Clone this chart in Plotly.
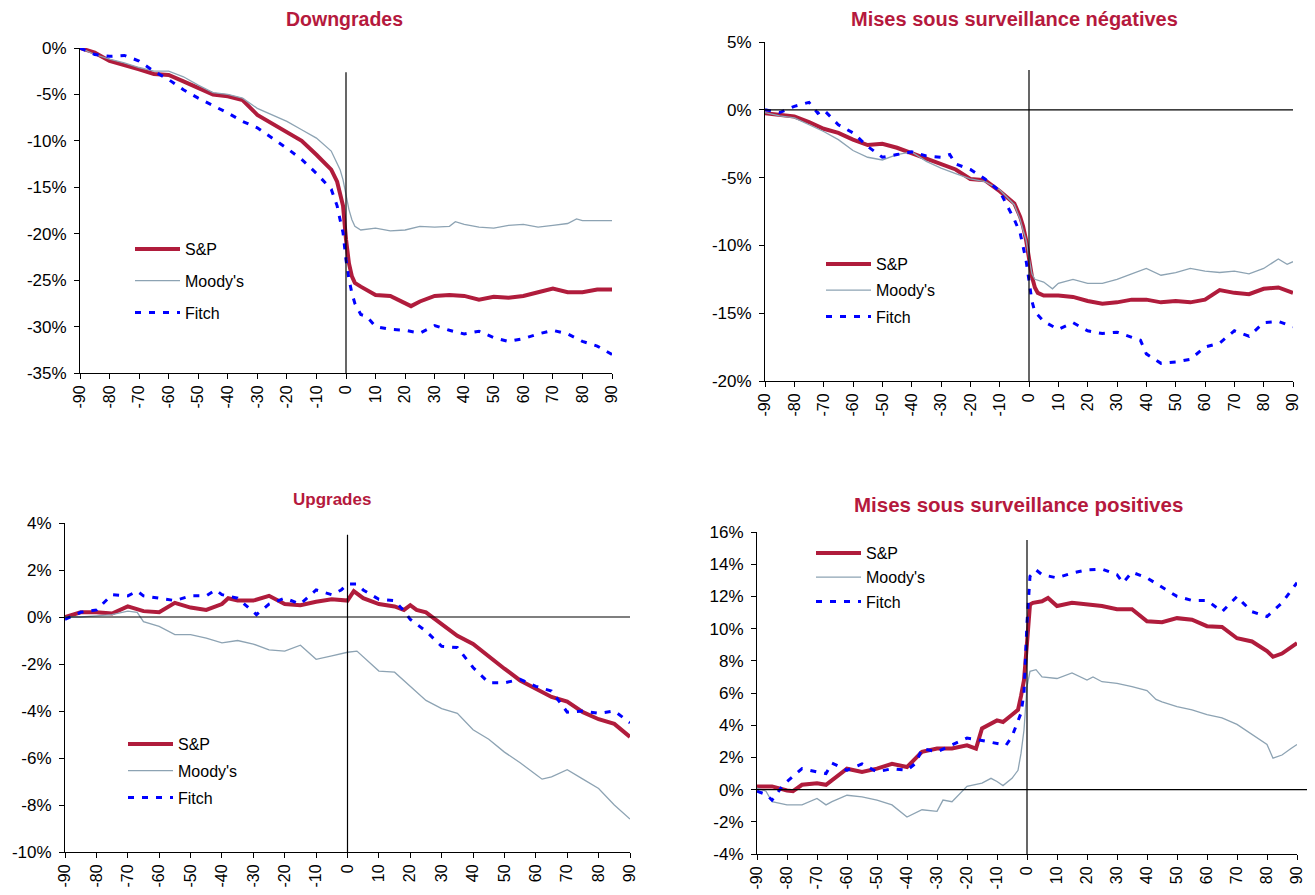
import plotly.graph_objects as go

# ---------------- DATA ----------------
days_ticks = list(range(-90, 91, 10))

# Panel 1: Downgrades
dg_sp_x = [-90,-85,-80,-75,-70,-65,-60,-55,-50,-45,-40,-35,-30,-25,-20,-15,-10,-5,-3,-2,-1,0,1,2,3,5,10,15,20,22,25,30,35,40,45,50,55,60,65,70,75,80,85,90]
dg_sp = [0,-0.5,-1.4,-1.8,-2.3,-2.8,-2.9,-3.6,-4.3,-5.0,-5.2,-5.6,-7.2,-8.1,-9.0,-10.0,-11.5,-13.1,-14.4,-15.6,-17.0,-20.6,-23.2,-24.6,-25.3,-25.7,-26.6,-26.7,-27.5,-27.8,-27.3,-26.7,-26.6,-26.7,-27.1,-26.8,-26.9,-26.7,-26.3,-25.9,-26.3,-26.3,-26.0,-26.0]
dg_md_x = [-90,-85,-80,-75,-70,-65,-60,-55,-50,-45,-40,-35,-30,-25,-20,-15,-10,-5,-3,-2,-1,0,1,2,3,5,10,15,20,25,30,35,37,40,45,50,55,60,65,70,75,78,80,85,90]
dg_md = [0,-0.7,-1.2,-1.6,-2.1,-2.5,-2.5,-3.1,-4.0,-4.8,-5.0,-5.4,-6.5,-7.2,-7.9,-8.8,-9.7,-11.1,-12.4,-13.1,-14.2,-16.0,-17.4,-18.5,-19.2,-19.6,-19.4,-19.7,-19.6,-19.2,-19.3,-19.2,-18.7,-19.0,-19.3,-19.4,-19.1,-19.0,-19.3,-19.1,-18.9,-18.4,-18.6,-18.6,-18.6]
dg_fi_x = [-90,-85,-80,-75,-70,-65,-60,-55,-50,-45,-40,-35,-30,-25,-20,-15,-10,-5,-3,-2,-1,0,1,2,3,5,7,10,15,20,25,30,35,40,45,50,55,60,65,70,75,80,85,90]
dg_fi = [0,-0.7,-0.9,-0.8,-1.4,-2.5,-3.4,-4.5,-5.4,-6.2,-7.0,-7.9,-8.6,-9.7,-10.8,-12.0,-13.5,-15.2,-17.0,-18.5,-19.9,-22.8,-24.9,-26.4,-27.5,-28.7,-28.9,-30.0,-30.3,-30.4,-30.7,-29.9,-30.4,-30.8,-30.5,-31.2,-31.6,-31.3,-30.8,-30.4,-30.8,-31.6,-32.1,-33.0]

# Panel 2: Mises sous surveillance négatives
ng_sp_x = [-90,-85,-80,-75,-70,-65,-60,-55,-50,-45,-40,-35,-30,-25,-20,-15,-10,-5,-3,-2,-1,0,1,2,3,5,10,15,20,25,30,35,40,45,50,55,60,65,70,75,80,85,90]
ng_sp = [-0.25,-0.4,-0.5,-0.9,-1.4,-1.7,-2.2,-2.6,-2.5,-2.8,-3.2,-3.6,-4.0,-4.4,-5.1,-5.2,-6.0,-6.9,-7.9,-8.6,-9.6,-11.1,-12.3,-13.1,-13.5,-13.7,-13.7,-13.8,-14.1,-14.3,-14.2,-14.0,-14.0,-14.2,-14.1,-14.2,-14.0,-13.3,-13.5,-13.6,-13.2,-13.1,-13.5]
ng_md_x = [-90,-85,-80,-75,-70,-65,-60,-55,-50,-45,-40,-35,-30,-25,-20,-15,-10,-5,-3,-2,-1,0,1,2,5,8,10,15,20,25,30,35,40,45,50,55,60,65,70,75,80,85,88,90]
ng_md = [-0.2,-0.45,-0.6,-1.1,-1.6,-2.2,-3.0,-3.5,-3.7,-3.3,-3.1,-3.8,-4.3,-4.7,-5.1,-5.3,-5.9,-7.0,-8.1,-8.9,-9.6,-10.9,-12.1,-12.5,-12.7,-13.2,-12.8,-12.5,-12.8,-12.8,-12.5,-12.1,-11.7,-12.2,-12.0,-11.7,-11.9,-12.0,-11.9,-12.1,-11.7,-11.0,-11.4,-11.2]
ng_fi_x = [-90,-85,-80,-75,-72,-70,-65,-60,-55,-50,-45,-40,-35,-30,-27,-25,-20,-15,-10,-5,-3,-2,-1,0,1,2,5,10,15,20,25,30,35,38,40,45,50,55,60,65,70,75,80,85,90]
ng_fi = [0,-0.2,0.25,0.55,-0.25,0,-1.1,-1.7,-2.7,-3.5,-3.3,-3.1,-3.4,-3.5,-3.3,-4.0,-4.4,-5.1,-6.0,-8.1,-9.1,-10.1,-11.1,-12.6,-14.1,-14.9,-15.6,-16.2,-15.7,-16.3,-16.5,-16.4,-16.8,-17.0,-18.0,-18.7,-18.6,-18.4,-17.5,-17.2,-16.3,-16.7,-15.7,-15.6,-16.0]

# Panel 3: Upgrades
up_sp_x = [-90,-85,-80,-75,-70,-65,-60,-55,-50,-45,-40,-38,-35,-30,-25,-20,-15,-10,-5,0,2,5,10,15,18,20,22,25,30,35,40,45,50,55,60,65,70,75,80,85,90]
up_sp = [0.0,0.2,0.2,0.15,0.45,0.25,0.2,0.6,0.4,0.3,0.55,0.8,0.7,0.7,0.9,0.55,0.5,0.65,0.75,0.7,1.1,0.8,0.55,0.45,0.3,0.5,0.3,0.2,-0.3,-0.8,-1.15,-1.7,-2.2,-2.7,-3.05,-3.4,-3.6,-4.05,-4.35,-4.55,-5.1]
up_md_x = [-90,-85,-80,-75,-70,-67,-65,-60,-55,-50,-45,-40,-35,-30,-25,-20,-15,-10,-5,0,3,5,10,15,20,25,30,35,40,45,50,55,60,62,65,70,75,80,85,90]
up_md = [0,0,0.05,0.1,0.25,0.2,-0.2,-0.4,-0.75,-0.75,-0.9,-1.1,-1.0,-1.15,-1.4,-1.45,-1.2,-1.8,-1.65,-1.5,-1.45,-1.7,-2.3,-2.35,-2.95,-3.55,-3.9,-4.1,-4.8,-5.2,-5.75,-6.2,-6.7,-6.9,-6.8,-6.5,-6.9,-7.3,-8.0,-8.6]
up_fi_x = [-90,-85,-80,-75,-70,-67,-65,-60,-55,-50,-45,-42,-40,-35,-30,-29,-25,-20,-15,-10,-5,-2,0,3,5,10,15,18,20,25,30,35,40,45,50,55,60,65,70,75,80,85,90]
up_fi = [-0.1,0.2,0.3,0.95,0.9,1.1,0.9,0.8,0.7,0.9,0.9,1.15,0.95,0.8,0.25,0.1,0.55,0.8,0.55,1.15,0.95,1.15,1.4,1.4,1.15,0.75,0.7,0.25,-0.1,-0.6,-1.25,-1.3,-2.15,-2.8,-2.8,-2.65,-2.95,-3.15,-4.05,-4.0,-4.1,-4.0,-4.5]

# Panel 4: Mises sous surveillance positives
ps_sp_x = [-90,-85,-80,-78,-75,-70,-67,-65,-60,-55,-50,-45,-40,-35,-30,-25,-20,-17,-15,-10,-8,-5,-3,-2,-1,0,1,2,5,7,10,15,20,25,30,35,40,45,50,55,60,65,70,75,80,82,85,90]
ps_sp = [0.2,0.2,-0.05,-0.1,0.3,0.4,0.3,0.6,1.3,1.1,1.3,1.6,1.4,2.35,2.55,2.55,2.75,2.55,3.8,4.3,4.2,4.65,4.95,5.8,6.8,9.1,11.5,11.6,11.7,11.9,11.4,11.6,11.5,11.4,11.2,11.2,10.45,10.4,10.65,10.55,10.15,10.1,9.4,9.2,8.6,8.25,8.45,9.1]
ps_md_x = [-90,-87,-85,-80,-75,-70,-67,-65,-60,-55,-50,-45,-40,-35,-30,-28,-25,-20,-15,-12,-10,-8,-5,-3,-2,-1,0,1,3,5,10,15,20,22,25,30,35,40,43,45,50,55,60,65,70,75,80,82,85,88,90]
ps_md = [0.1,-0.1,-0.75,-0.95,-0.95,-0.55,-0.95,-0.75,-0.35,-0.45,-0.65,-0.95,-1.7,-1.25,-1.35,-0.65,-0.75,0.2,0.4,0.7,0.5,0.25,0.7,1.2,2.25,3.7,6.4,7.35,7.45,7.0,6.9,7.25,6.8,7.0,6.7,6.6,6.4,6.15,5.6,5.45,5.15,4.95,4.65,4.45,4.05,3.4,2.8,1.95,2.15,2.55,2.8]
ps_fi_x = [-90,-87,-85,-82,-80,-75,-70,-67,-65,-60,-55,-50,-45,-40,-37,-35,-30,-25,-20,-15,-10,-7,-5,-2,-1,0,1,3,5,10,15,20,25,30,32,35,40,45,50,55,60,65,70,72,75,80,85,90]
ps_fi = [-0.1,-0.3,-0.65,0.1,0.5,1.3,1.1,1.0,1.65,1.2,1.6,1.1,1.3,1.2,1.65,2.55,2.35,2.75,3.2,3.05,2.85,2.75,3.3,4.75,6.0,10.35,13.25,13.65,13.35,13.15,13.45,13.65,13.7,13.35,12.85,13.5,13.15,12.6,12.0,11.75,11.75,11.05,12.0,11.6,11.05,10.75,11.6,12.85]

titles = ["Downgrades", "Mises sous surveillance négatives", "Upgrades", "Mises sous surveillance positives"]
series_names = ["S&P", "Moody's", "Fitch"]

# ---------------- STYLE ----------------
OFF = 8                      # page body margin in the browser
W, H = 1315 - OFF, 895 - OFF  # figure size so the page fits the window
SP_COLOR = "#B01C3C"
MD_COLOR = "#8DA3B3"
FI_COLOR = "#0000FF"
TITLE_COLOR = "#B5193D"
FONT = "Liberation Sans, Arial, sans-serif"

def px_x(p):
    return (p - OFF) / W

def px_y(p):
    return 1 - (p - OFF) / H

# panel geometry in screen pixels: (left, right, top, bottom)
panels = [
    dict(box=(80, 612, 48, 373), yr=(-35, 0), ydt=5, vtop=-2.6, hzero=False,
         title_xy=(345, 19), title_size=19.5, leg=(130, 232), gap=8),
    dict(box=(765, 1293, 42, 381), yr=(-20, 5), ydt=5, vtop=2.94, hzero=True,
         title_xy=(1014, 19), title_size=20, leg=(821, 247), gap=2.5),
    dict(box=(65, 630, 523, 852), yr=(-10, 4), ydt=2, vtop=3.5, hzero=True,
         title_xy=(332, 499), title_size=17, leg=(123, 727), gap=3),
    dict(box=(757, 1297, 532, 854), yr=(-4, 16), ydt=2, vtop=15.5, hzero=True, hzero_ext=True,
         title_xy=(1018, 504), title_size=20.5, leg=(811, 536), gap=0.5),
]

data_sets = [
    [(dg_sp_x, dg_sp), (dg_md_x, dg_md), (dg_fi_x, dg_fi)],
    [(ng_sp_x, ng_sp), (ng_md_x, ng_md), (ng_fi_x, ng_fi)],
    [(up_sp_x, up_sp), (up_md_x, up_md), (up_fi_x, up_fi)],
    [(ps_sp_x, ps_sp), (ps_md_x, ps_md), (ps_fi_x, ps_fi)],
]

line_styles = [
    dict(color=SP_COLOR, width=4),
    dict(color=MD_COLOR, width=1.3),
    dict(color=FI_COLOR, width=3, dash="6px,8px"),
]

fig = go.Figure()
layout = dict(
    width=W, height=H,
    margin=dict(l=0, r=0, t=0, b=0, autoexpand=False),
    paper_bgcolor="white", plot_bgcolor="white",
    font=dict(family=FONT, color="#000000", size=16),
    shapes=[], annotations=[],
)

for i, (pan, ds) in enumerate(zip(panels, data_sets)):
    n = i + 1
    xa = "x" if n == 1 else f"x{n}"
    ya = "y" if n == 1 else f"y{n}"
    xkey = "xaxis" if n == 1 else f"xaxis{n}"
    ykey = "yaxis" if n == 1 else f"yaxis{n}"
    lkey = "legend" if n == 1 else f"legend{n}"
    l, r, t, b = pan["box"]
    for (xs, ys), name, st in zip(ds, series_names, line_styles):
        fig.add_trace(go.Scatter(
            x=xs, y=ys, name=name, mode="lines", line=st,
            xaxis=xa, yaxis=ya, legend=lkey, legendgroup=f"{n}-{name}",
            hoverinfo="skip",
        ))
    y0, y1 = pan["yr"]
    yticks = list(range(y0, y1 + 1, pan["ydt"]))
    layout[xkey] = dict(
        domain=[px_x(l), px_x(r)], anchor=ya, range=[-90, 90],
        tickvals=days_ticks, ticktext=[str(v) for v in days_ticks],
        tickangle=-90, ticks="outside", ticklen=5, tickcolor="black",
        showline=True, linecolor="black", linewidth=1,
        showgrid=False, zeroline=False, tickfont=dict(size=16, family=FONT),
        fixedrange=True, automargin=False,
    )
    layout[ykey] = dict(
        domain=[px_y(b), px_y(t)], anchor=xa, range=[y0, y1],
        tickvals=yticks, ticktext=[f"{v}%" for v in yticks],
        ticks="outside", ticklen=5, tickcolor="black",
        showline=True, linecolor="black", linewidth=1,
        showgrid=False, zeroline=False, tickfont=dict(size=17, family=FONT),
        ticklabelstandoff=4,
        fixedrange=True, automargin=False,
    )
    lx, ly = pan["leg"]
    layout[lkey] = dict(
        x=px_x(lx), y=px_y(ly), xanchor="left", yanchor="top",
        bgcolor="rgba(0,0,0,0)", borderwidth=0,
        font=dict(size=16, family=FONT, color="black"),
        tracegroupgap=pan["gap"], itemwidth=45, traceorder="grouped",
    )
    # vertical line at day 0
    layout["shapes"].append(dict(
        type="line", xref=xa, yref=ya, x0=0, x1=0, y0=y0, y1=pan["vtop"],
        line=dict(color="black", width=1.2),
    ))
    if pan["hzero"]:
        if pan.get("hzero_ext"):
            layout["shapes"].append(dict(
                type="line", xref="paper", yref=ya, x0=px_x(l), x1=1, y0=0, y1=0,
                line=dict(color="black", width=1.2),
            ))
        else:
            layout["shapes"].append(dict(
                type="line", xref=xa, yref=ya, x0=-90, x1=90, y0=0, y1=0,
                line=dict(color="black", width=1.2),
            ))
    tx, ty = pan["title_xy"]
    layout["annotations"].append(dict(
        text=f"<b>{titles[i]}</b>", xref="paper", yref="paper",
        x=px_x(tx), y=px_y(ty), xanchor="center", yanchor="middle",
        showarrow=False, font=dict(size=pan["title_size"], color=TITLE_COLOR, family=FONT),
    ))

fig.update_layout(**layout)
fig.write_html("out.html")
